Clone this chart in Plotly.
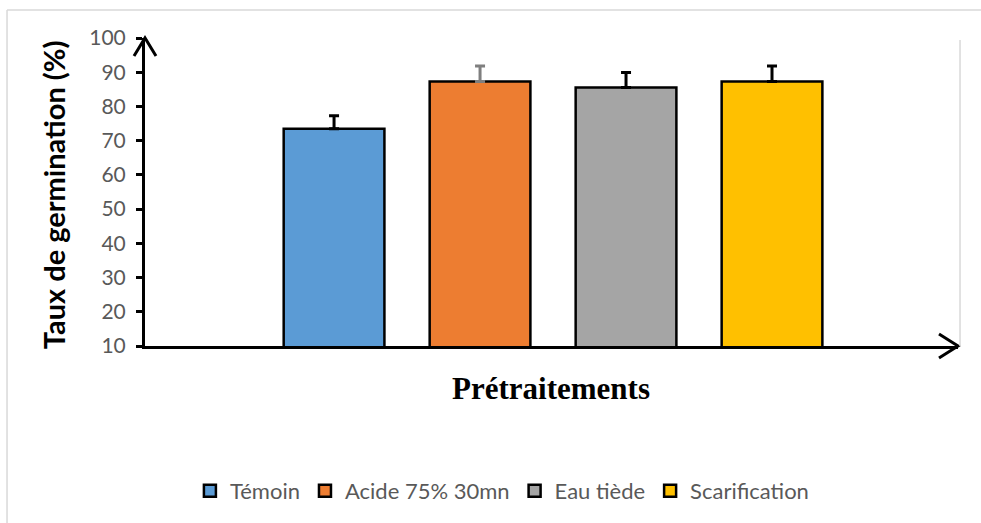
import plotly.graph_objects as go

# ---------------------------------------------------------------------------
# Data
# ---------------------------------------------------------------------------
treatments = ["Témoin", "Acide 75% 30mn", "Eau tiède", "Scarification"]
germination = [73.5, 87.3, 85.5, 87.3]
error_plus = [3.8, 4.5, 4.4, 4.5]
bar_colors = ["#5B9BD5", "#ED7D31", "#A5A5A5", "#FFC000"]
err_colors = ["#000000", "#7F7F7F", "#000000", "#000000"]
y_ticks = [10, 20, 30, 40, 50, 60, 70, 80, 90, 100]

TICK_GREY = "#595959"
FRAME_GREY = "#D9D9D9"
FONT = "Lato, Calibri, sans-serif"

fig = go.Figure()
for name, val, err, col, ecol in zip(treatments, germination, error_plus,
                                     bar_colors, err_colors):
    fig.add_trace(go.Bar(
        x=[name], y=[val], name=name, width=0.69,
        marker=dict(color=col, line=dict(color="#000000", width=2.5)),
        error_y=dict(type="data", array=[err], arrayminus=[0], symmetric=False,
                     color=ecol, thickness=3, width=5),
    ))

fig.update_layout(
    width=981, height=523,
    barmode="overlay",
    paper_bgcolor="white", plot_bgcolor="white",
    margin=dict(l=145, r=23, t=38, b=176),
    font=dict(family=FONT, color=TICK_GREY),
    xaxis=dict(
        type="category", categoryarray=treatments,
        range=[-1.295, 4.274],
        showline=True, linewidth=3, linecolor="#000000",
        showticklabels=False, ticks="", showgrid=False, zeroline=False,
    ),
    yaxis=dict(
        range=[10, 100], tickvals=y_ticks,
        showline=True, linewidth=3, linecolor="#000000",
        ticks="outside", ticklen=6, tickwidth=3, tickcolor="#000000",
        ticklabelstandoff=6,
        tickfont=dict(size=21, color=TICK_GREY, family=FONT),
        showgrid=False, zeroline=False,
    ),
    legend=dict(
        orientation="h", x=0.439, xanchor="center", y=-0.466, yanchor="middle",
        font=dict(size=22, color=TICK_GREY, family=FONT),
        traceorder="normal", itemwidth=30,
    ),
    showlegend=True,
)

# axis titles
fig.add_annotation(
    text="<b>Taux de germination (%)</b>", textangle=-90,
    xref="paper", yref="paper", x=-0.113, y=0.49,
    xanchor="center", yanchor="middle", showarrow=False,
    font=dict(size=29, color="#000000", family=FONT),
)
fig.add_annotation(
    text="<b>Prétraitements</b>",
    xref="paper", yref="paper", x=0.4994, y=-0.139,
    xanchor="center", yanchor="middle", showarrow=False,
    font=dict(size=31, color="#000000", family="Liberation Serif, Times New Roman, serif"),
)

# arrow heads on the axes
fig.add_shape(type="path", xref="paper", yref="paper",
              xsizemode="pixel", ysizemode="pixel", xanchor=0, yanchor=1,
              path="M-11,-18 L0,0 L11,-18",
              line=dict(color="#000000", width=3))
fig.add_shape(type="path", xref="paper", yref="paper",
              xsizemode="pixel", ysizemode="pixel", xanchor=1, yanchor=0,
              path="M-19,12 L0,0 L-19,-12",
              line=dict(color="#000000", width=3))

# light chart frame
fig.add_shape(type="line", xref="paper", yref="paper",
              x0=-0.1697, x1=-0.1697, y0=1.0906, y1=-0.6,
              line=dict(color=FRAME_GREY, width=1.5))
fig.add_shape(type="line", xref="paper", yref="paper",
              x0=-0.1697, x1=1.03, y0=1.0906, y1=1.0906,
              line=dict(color=FRAME_GREY, width=1.5))
fig.add_shape(type="line", xref="paper", yref="paper",
              x0=1.0025, x1=1.0025, y0=0, y1=0.9935,
              line=dict(color=FRAME_GREY, width=1.5))

fig.write_html("out.html", config={"displayModeBar": False},
               post_script="document.body.style.margin='0px';")
